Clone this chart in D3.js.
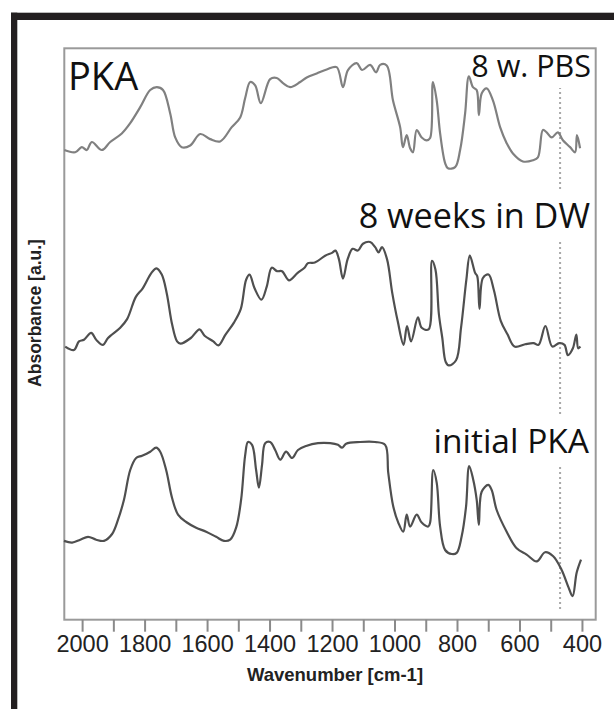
<!DOCTYPE html>
<html>
<head>
<meta charset="utf-8">
<script src="https://cdn.jsdelivr.net/npm/d3@7"></script>
<style>
  html, body { margin: 0; padding: 0; background: #fff; }
  svg { display: block; }
</style>
</head>
<body>
<svg id="chart" width="614" height="709"></svg>
<script>
// FTIR spectra of PKA: initial, after 8 weeks in distilled water, after 8 weeks in PBS
const wnPBS = [2057,2022,2001,1985,1969,1937,1910,1873,1846,1814,1782,1761,1741,1718,1702,1681,1654,1622,1590,1558,1521,1494,1478,1462,1446,1428,1398,1377,1357,1334,1302,1281,1249,1217,1185,1165,1149,1121,1104,1078,1059,1046,1025,1005,982,973,961,950,941,929,913,897,886,877,865,854,838,829,806,790,774,762,749,737,730,721,705,685,662,641,621,589,557,541,525,513,497,477,461,438,422,416,406];
const absPBS = [8.22,8.18,8.27,8.22,8.36,8.22,8.36,8.51,8.69,8.97,9.27,9.32,9.27,8.86,8.44,8.27,8.30,8.50,8.41,8.37,8.62,8.79,9.13,9.41,9.35,9.04,9.46,9.48,9.39,9.32,9.41,9.49,9.56,9.63,9.67,9.32,9.62,9.74,9.62,9.71,9.58,9.71,9.70,9.09,8.62,8.27,8.48,8.25,8.18,8.57,8.44,8.39,8.43,9.41,9.09,8.51,7.99,7.90,7.92,8.22,8.86,9.51,9.32,9.27,8.83,9.21,9.30,9.09,8.62,8.34,8.16,8.02,8.04,8.09,8.57,8.53,8.44,8.53,8.39,8.27,8.18,8.48,8.25];

const wnDW = [2054,2026,2010,1994,1971,1955,1933,1917,1878,1856,1828,1806,1778,1762,1745,1729,1712,1696,1685,1652,1624,1608,1580,1564,1541,1514,1492,1475,1464,1448,1426,1409,1393,1376,1360,1338,1310,1288,1277,1255,1222,1200,1189,1178,1165,1150,1134,1117,1101,1078,1062,1051,1040,1024,1007,990,971,960,947,925,913,891,880,869,858,847,836,826,803,787,770,759,742,735,728,717,699,682,660,638,616,582,555,539,517,495,473,456,445,429,418,412,405];
const absDW = [4.78,4.72,4.87,4.90,5.02,4.90,4.81,4.93,5.11,5.26,5.65,5.80,6.07,6.15,6.04,5.71,5.17,4.87,4.83,4.93,5.08,4.97,4.87,4.80,4.99,5.20,5.44,5.95,6.04,5.80,5.60,5.83,6.16,6.10,6.10,5.94,6.07,6.16,6.24,6.25,6.37,6.42,6.46,6.31,5.97,6.31,6.49,6.46,6.58,6.61,6.52,6.43,6.52,6.31,5.71,5.23,4.81,5.14,4.87,5.29,5.11,5.08,6.28,6.13,5.35,4.93,4.51,4.45,4.54,5.11,5.95,6.37,6.07,6.01,5.44,5.98,6.04,5.77,5.23,4.99,4.78,4.82,4.84,4.81,5.14,4.78,4.84,4.81,4.63,4.75,4.99,4.75,4.78];

const wnInit = [2058,2032,2006,1981,1955,1930,1904,1885,1866,1846,1827,1808,1782,1763,1750,1731,1712,1693,1667,1635,1603,1571,1546,1526,1507,1491,1478,1469,1456,1443,1434,1424,1414,1398,1382,1366,1347,1328,1309,1283,1245,1206,1181,1168,1155,1110,1062,1030,1020,1004,988,972,961,950,929,913,892,886,876,865,854,838,817,801,785,771,761,748,737,730,721,700,689,673,641,609,577,545,518,492,465,444,430,417,403];
const absInit = [1.38,1.35,1.40,1.45,1.40,1.38,1.50,1.75,2.10,2.62,2.83,2.87,2.94,3.01,2.94,2.62,2.13,1.84,1.71,1.61,1.54,1.45,1.38,1.40,1.61,2.10,2.88,3.11,3.06,2.62,2.31,2.71,3.09,3.11,2.97,2.80,2.94,2.83,2.97,3.04,3.09,3.09,3.06,3.01,3.08,3.11,3.11,3.06,2.57,1.98,1.70,1.54,1.84,1.63,1.84,1.70,1.63,1.70,2.62,2.40,1.63,1.22,1.15,1.17,1.46,1.98,2.69,2.45,2.10,1.66,2.24,2.36,2.27,1.92,1.54,1.25,1.14,1.02,1.18,1.11,0.87,0.58,0.41,0.82,1.05];

const xTicks = [2000,1900,1800,1700,1600,1500,1400,1300,1200,1100,1000,900,800,700,600,500,400];
const xTickLabels = ["2000","","1800","","1600","","1400","","1200","","1000","","800","","600","","400"];
const markerWn = 470;

const seriesNames = ["8 w. PBS", "8 weeks in DW", "initial PKA"];
const panelTitle = "PKA";
const xTitle = "Wavenumber [cm-1]";
const yTitle = "Absorbance [a.u.]";

const spectra = [
  { name: seriesNames[0], wn: wnPBS,  abs: absPBS,  color: "#808080" },
  { name: seriesNames[1], wn: wnDW,   abs: absDW,   color: "#4f4f4f" },
  { name: seriesNames[2], wn: wnInit, abs: absInit, color: "#4f4f4f" }
];

const svg = d3.select("#chart");

// outer figure border (left and top edges)
svg.append("rect").attr("x", 11).attr("y", 12.7).attr("width", 6.3).attr("height", 700).attr("fill", "#231f20");
svg.append("rect").attr("x", 11).attr("y", 12.7).attr("width", 610).attr("height", 7.3).attr("fill", "#231f20");

const plot = { left: 64.3, top: 48.3, right: 595.7, bottom: 619.7 };

const x = d3.scaleLinear().domain([2057, 356]).range([plot.left, plot.right]);
const y = d3.scaleLinear().domain([0, 10]).range([plot.bottom, plot.top]);

// layers: marker line, label boxes, frame, spectra, text
const gMarker = svg.append("g");
const gBoxes = svg.append("g");
const gFrame = svg.append("g");
const gLines = svg.append("g");
const gText = svg.append("g");

// dotted marker line
gMarker.append("line")
  .attr("x1", x(markerWn)).attr("x2", x(markerWn))
  .attr("y1", 82).attr("y2", 610)
  .attr("stroke", "#a8a8a8").attr("stroke-width", 2)
  .attr("stroke-dasharray", "2,3");

// plot frame
gFrame.append("rect")
  .attr("x", plot.left).attr("y", plot.top)
  .attr("width", plot.right - plot.left).attr("height", plot.bottom - plot.top)
  .attr("fill", "none").attr("stroke", "#9a9a9a").attr("stroke-width", 2);

// spectra
const line = d3.line()
  .x(d => x(d[0]))
  .y(d => y(d[1]))
  .curve(d3.curveCatmullRom.alpha(0.5));

gLines.selectAll("path")
  .data(spectra)
  .join("path")
  .attr("d", s => line(s.wn.map((w, i) => [w, s.abs[i]])))
  .attr("fill", "none")
  .attr("stroke", s => s.color)
  .attr("stroke-width", 2.2)
  .attr("stroke-linejoin", "round");

// series labels with white boxes behind them
const labelSpecs = [
  { text: seriesNames[0], x: 591, y: 77,  size: 30.5 },
  { text: seriesNames[1], x: 590, y: 228, size: 34.2 },
  { text: seriesNames[2], x: 589, y: 453, size: 33.5 }
];
labelSpecs.forEach(s => {
  const t = gText.append("text")
    .attr("x", s.x).attr("y", s.y)
    .attr("text-anchor", "end")
    .attr("font-family", "'Open Sans', sans-serif")
    .attr("font-size", s.size)
    .attr("fill", "#111")
    .text(s.text);
  const bb = t.node().getBBox();
  gBoxes.append("rect")
    .attr("x", bb.x - 2).attr("y", bb.y - 2)
    .attr("width", bb.width + 4).attr("height", bb.height + 4)
    .attr("fill", "#fff");
});

// panel title
gText.append("text")
  .attr("x", 68).attr("y", 90)
  .attr("font-family", "'Open Sans', sans-serif")
  .attr("font-size", 38)
  .attr("fill", "#111")
  .text(panelTitle);

// x axis
const xAxis = d3.axisBottom(x)
  .tickValues(xTicks)
  .tickFormat((d, i) => xTickLabels[i])
  .tickSize(12)
  .tickSizeOuter(0)
  .tickPadding(4);

const gx = svg.append("g")
  .attr("transform", `translate(0,${plot.bottom})`)
  .call(xAxis);
gx.select(".domain").remove();
gx.selectAll(".tick line").attr("stroke", "#8a8a8a").attr("stroke-width", 2);
gx.selectAll(".tick text")
  .attr("font-family", "'Liberation Sans', Arial, sans-serif")
  .attr("font-size", 23.5)
  .attr("fill", "#222");

// axis titles
svg.append("text")
  .attr("x", 335).attr("y", 681)
  .attr("text-anchor", "middle")
  .attr("font-family", "'Liberation Sans', Arial, sans-serif")
  .attr("font-weight", "bold")
  .attr("font-size", 18.5)
  .attr("fill", "#222")
  .text(xTitle);

svg.append("text")
  .attr("transform", "translate(41,313) rotate(-90)")
  .attr("text-anchor", "middle")
  .attr("font-family", "'Liberation Sans', Arial, sans-serif")
  .attr("font-weight", "bold")
  .attr("font-size", 17.5)
  .attr("fill", "#222")
  .text(yTitle);
</script>
</body>
</html>
